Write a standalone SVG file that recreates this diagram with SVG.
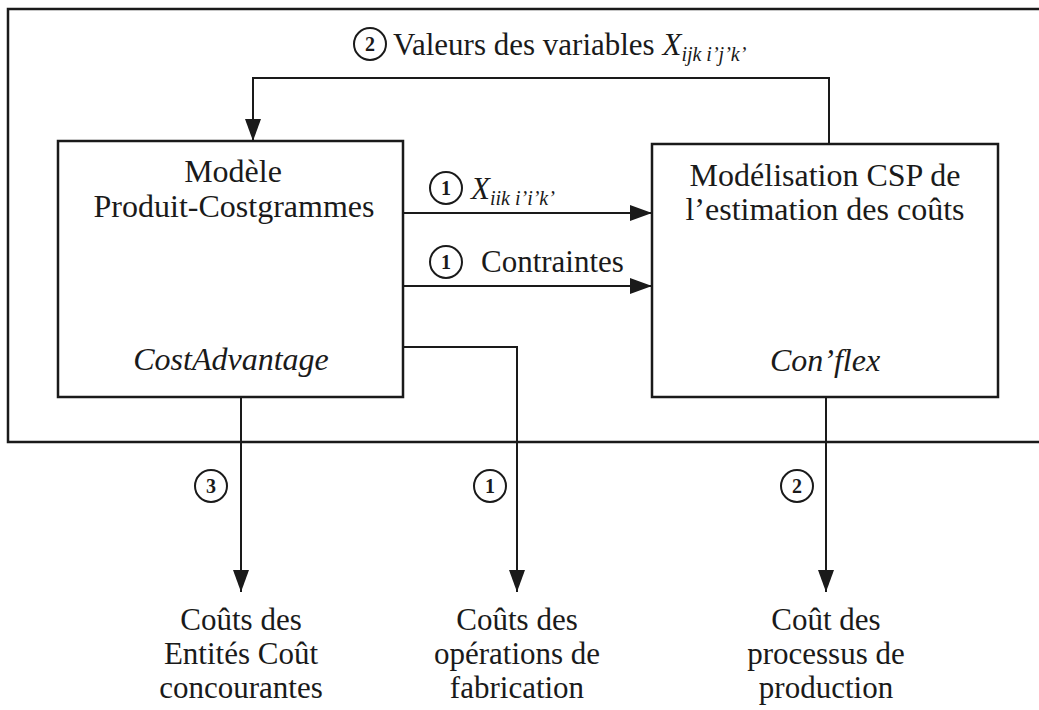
<svg xmlns="http://www.w3.org/2000/svg" width="1039" height="710" viewBox="0 0 1039 710">
<style>
text{font-family:"Liberation Serif","Times New Roman",serif;fill:#1a1a1a;font-size:31px}
.c{text-anchor:middle}
.b{font-size:32px}
.it{font-style:italic}
.sub{font-size:20px;font-style:italic}
.num{font-size:20px;font-weight:bold;text-anchor:middle}
.box{fill:#fff;stroke:#1a1a1a;stroke-width:2.5}
.ln{fill:none;stroke:#1a1a1a;stroke-width:2}
.circ{fill:none;stroke:#1a1a1a;stroke-width:2}
</style>
<defs>
<marker id="ah" viewBox="0 0 22 16" refX="22" refY="8" markerWidth="22" markerHeight="16" markerUnits="userSpaceOnUse" orient="auto">
<path d="M0,0 L22,8 L0,16 Z" fill="#1a1a1a"/>
</marker>
</defs>
<rect width="1039" height="710" fill="#fff"/>
<g id="frame">
<path d="M1039,9 H8 V442 H1039" fill="none" stroke="#1a1a1a" stroke-width="2.5"/>
</g>
<g id="connectors">
<path class="ln" d="M829,144 V78 H253 V141" marker-end="url(#ah)"/>
<path class="ln" d="M403,213 H652" marker-end="url(#ah)"/>
<path class="ln" d="M403,286 H652" marker-end="url(#ah)"/>
<path class="ln" d="M403,347 H517 V592" marker-end="url(#ah)"/>
<path class="ln" d="M241,397 V592" marker-end="url(#ah)"/>
<path class="ln" d="M826,397 V592" marker-end="url(#ah)"/>
</g>
<g id="label-feedback">
<circle class="circ" cx="370" cy="44" r="16"/>
<text class="num" x="370" y="51">2</text>
<text x="393" y="55">Valeurs des variables <tspan class="it">X</tspan><tspan class="sub" dy="6">ijk i’j’k’</tspan></text>
</g>
<g id="label-x">
<circle class="circ" cx="446" cy="188" r="16"/>
<text class="num" x="446" y="195">1</text>
<text x="471" y="199"><tspan class="it">X</tspan><tspan class="sub" dy="6">iik i’i’k’</tspan></text>
</g>
<g id="label-contraintes">
<circle class="circ" cx="446" cy="262" r="16"/>
<text class="num" x="446" y="269">1</text>
<text x="481" y="272">Contraintes</text>
</g>
<g id="node-costadvantage">
<rect class="box" x="58" y="141" width="345" height="256"/>
<text class="c b" x="233" y="182">Modèle</text>
<text class="c b" x="234" y="217">Produit-Costgrammes</text>
<text class="c b it" x="231" y="370">CostAdvantage</text>
</g>
<g id="node-conflex">
<rect class="box" x="652" y="144" width="346" height="253"/>
<text class="c b" x="825" y="186">Modélisation CSP de</text>
<text class="c b" x="825" y="220">l’estimation des coûts</text>
<text class="c b it" x="825" y="371">Con’flex</text>
</g>
<g id="badge-3">
<circle class="circ" cx="211" cy="486" r="16"/>
<text class="num" x="211" y="493">3</text>
</g>
<g id="badge-1">
<circle class="circ" cx="490" cy="486" r="16"/>
<text class="num" x="490" y="493">1</text>
</g>
<g id="badge-2">
<circle class="circ" cx="797" cy="486" r="16"/>
<text class="num" x="797" y="493">2</text>
</g>
<g id="out-entites">
<text class="c" x="241" y="630">Coûts des</text>
<text class="c" x="241" y="664">Entités Coût</text>
<text class="c" x="241" y="698">concourantes</text>
</g>
<g id="out-operations">
<text class="c" x="517" y="630">Coûts des</text>
<text class="c" x="517" y="664">opérations de</text>
<text class="c" x="517" y="698">fabrication</text>
</g>
<g id="out-processus">
<text class="c" x="826" y="630">Coût des</text>
<text class="c" x="826" y="664">processus de</text>
<text class="c" x="826" y="698">production</text>
</g>
</svg>
